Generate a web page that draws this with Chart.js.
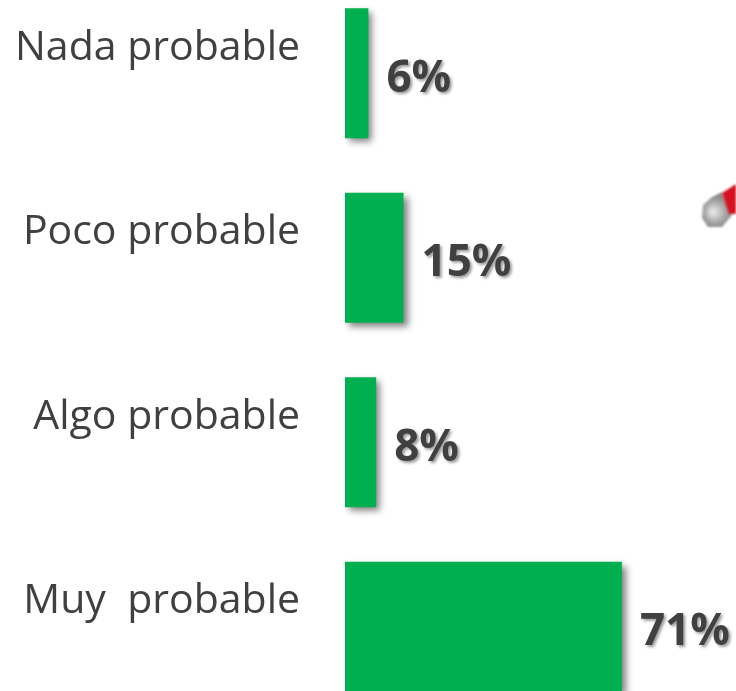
<!DOCTYPE html>
<html><head><meta charset="utf-8">
<style>html,body{margin:0;padding:0;background:#fff;overflow:hidden;width:736px;height:691px}
#w{position:absolute;left:0;top:-19px;width:736px;height:738px}</style>
<script src="https://cdn.jsdelivr.net/npm/chart.js@4"></script></head>
<body><div id="w"><canvas id="c" width="736" height="738"></canvas></div>
<script>
const categories = ["Nada probable", "Poco probable", "Algo probable", "Muy  probable"];
const values = [6, 15, 8, 71];
const valueLabels = ["6%", "15%", "8%", "71%"];
const green = "#00B050", ink = "#404040";

const barShadow = {
  id: "barShadow",
  beforeDatasetDraw(c) { const x = c.ctx; x.save(); x.shadowColor = "rgba(0,0,0,.5)"; x.shadowBlur = 7; x.shadowOffsetX = 4; x.shadowOffsetY = 4; },
  afterDatasetDraw(c) { c.ctx.restore(); }
};
const valueText = {
  id: "valueText",
  afterDatasetsDraw(c) {
    const x = c.ctx, m = c.getDatasetMeta(0);
    x.save();
    x.font = "bold 44px 'Open Sans'"; x.fillStyle = ink; x.textBaseline = "middle"; x.textAlign = "left";
    x.shadowColor = "rgba(0,0,0,.4)"; x.shadowBlur = 3; x.shadowOffsetX = 2; x.shadowOffsetY = 2;
    m.data.forEach((b, i) => x.fillText(valueLabels[i], b.x + 18, b.y + 6));
    x.restore();
  }
};
const pencil = {
  id: "pencil",
  afterDraw(c) {
    const x = c.ctx; x.save(); x.translate(0, 19);
    const g = x.createRadialGradient(713, 212, 2, 716, 212, 16);
    g.addColorStop(0, "#e2e2e2"); g.addColorStop(.6, "#a8a8a8"); g.addColorStop(1, "#8a8a8a");
    x.fillStyle = g; x.filter = "blur(1px)";
    x.beginPath(); x.moveTo(703, 205); x.lineTo(712, 197); x.lineTo(722, 192); x.lineTo(732, 215); x.lineTo(722, 227); x.lineTo(708, 227); x.lineTo(702, 218); x.closePath(); x.fill();
    x.fillStyle = "#d4121f";
    x.beginPath(); x.moveTo(736, 184); x.lineTo(736, 214); x.lineTo(729, 214); x.lineTo(722, 193); x.closePath(); x.fill();
    x.restore();
  }
};
new Chart(document.getElementById("c"), {
  type: "bar",
  data: { labels: categories, datasets: [{ data: values, backgroundColor: green, borderWidth: 0, categoryPercentage: 1, barPercentage: 0.705 }] },
  options: {
    indexAxis: "y", responsive: false, animation: false,
    layout: { padding: { top: 0, right: 1, bottom: 0, left: 0 } },
    plugins: { legend: { display: false }, tooltip: { enabled: false } },
    scales: {
      x: { display: false, min: 0, max: 100 },
      y: {
        grid: { display: false, drawBorder: false }, border: { display: false },
        afterFit(s) { s.width = 345; s.paddingTop = 0; s.paddingBottom = 0; },
        ticks: { padding: 37, color: ink, font: { family: "'Open Sans'", size: 41, lineHeight: "50px" },
                 callback(v) { return [this.getLabelForValue(v), ""]; } }
      }
    }
  },
  plugins: [barShadow, valueText, pencil]
});
</script></body></html>
